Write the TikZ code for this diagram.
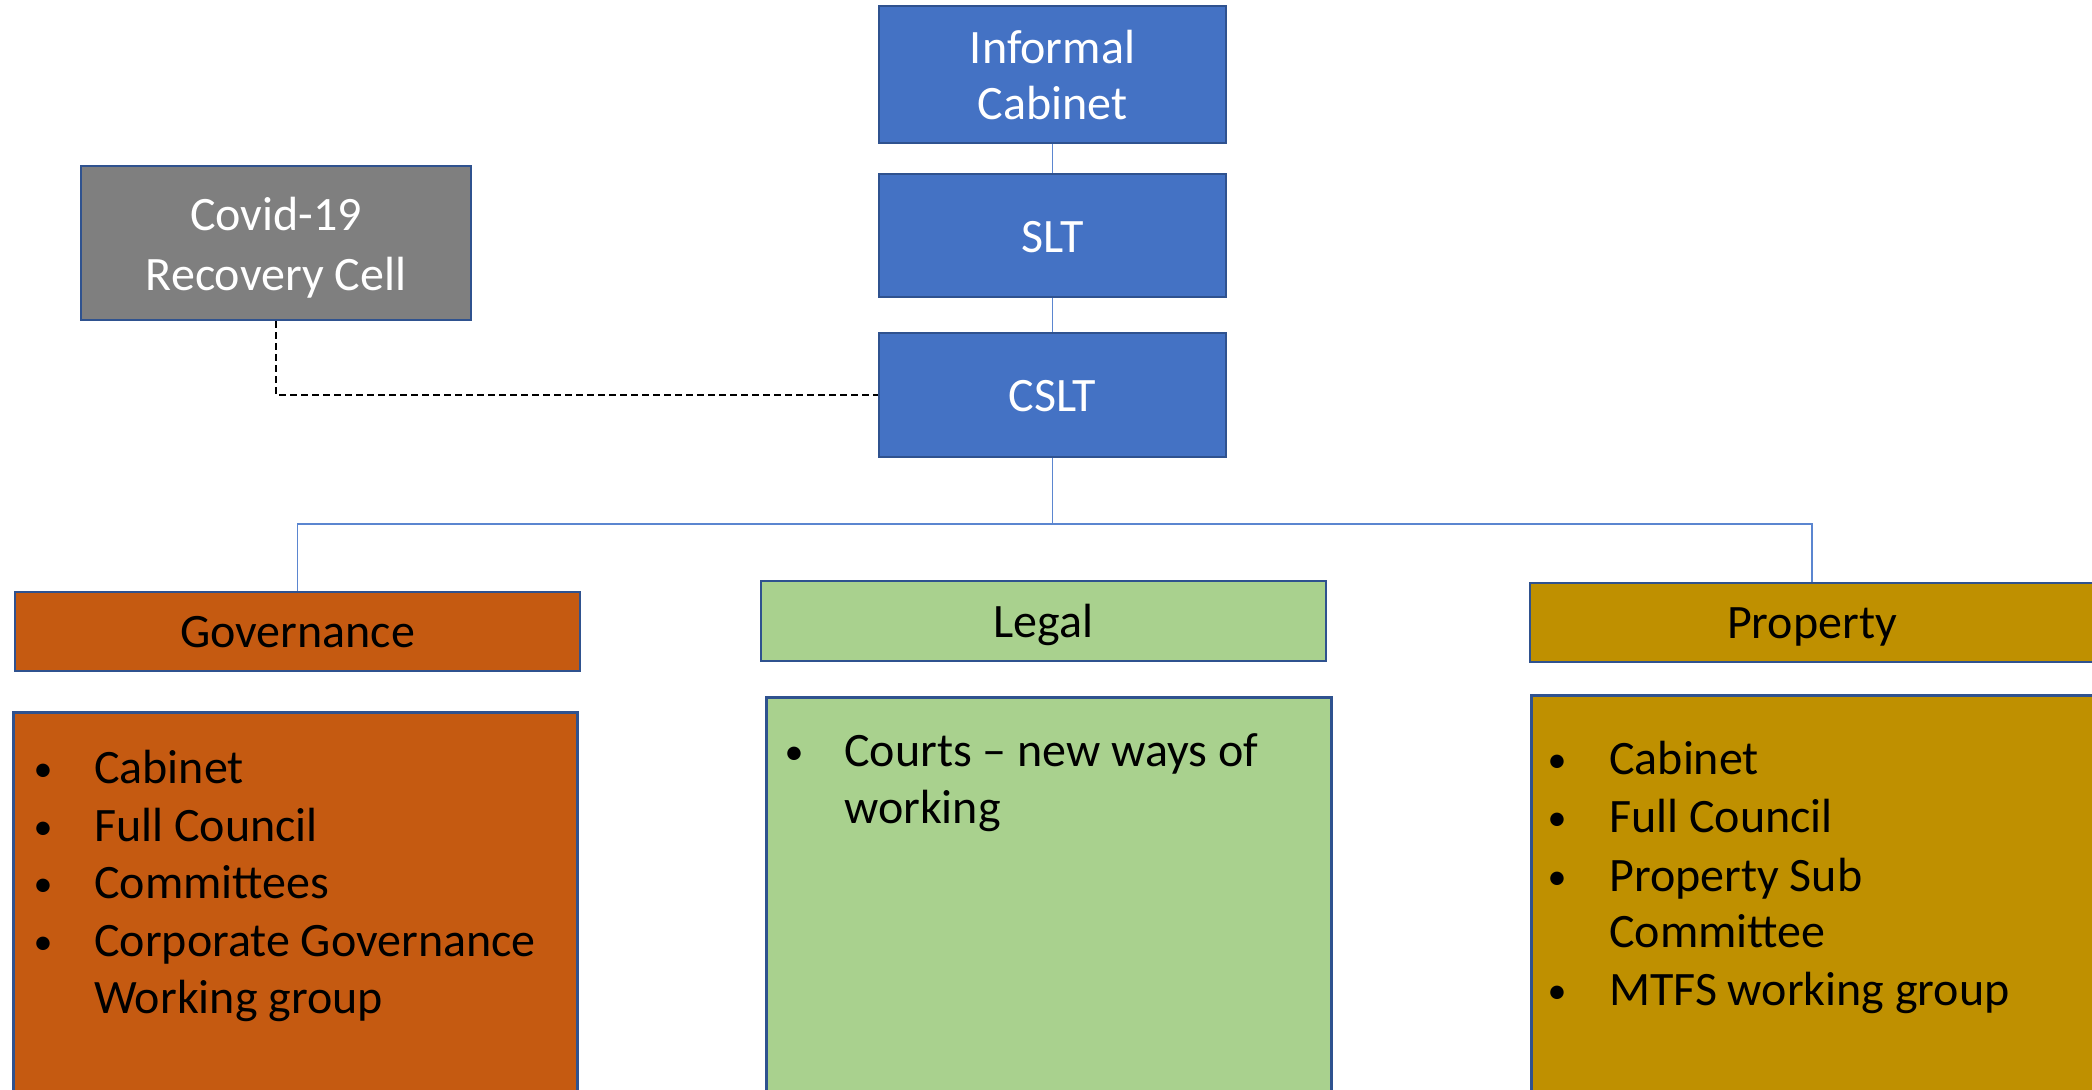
\documentclass[tikz,border=0pt]{standalone}
\usepackage{fontspec}
\setmainfont{Carlito}
\definecolor{cblue}{HTML}{4472C4}
\definecolor{bord}{HTML}{2F528F}
\definecolor{cgrey}{HTML}{7F7F7F}
\definecolor{cgov}{HTML}{C55A11}
\definecolor{clegal}{HTML}{A9D18E}
\definecolor{cprop}{HTML}{BF9000}
\definecolor{clink}{HTML}{5B86D0}
\begin{document}
\begin{tikzpicture}[x=1pt,y=-1pt,
  box/.style={draw=bord, line width=2.5pt, inner sep=0pt, rectangle},
  topbox/.style={box, fill=cblue, text=white, minimum width=347pt, font=\fontsize{48}{56}\selectfont},
  hdr/.style={box, minimum width=565pt, minimum height=79pt, text=black, font=\fontsize{48}{58}\selectfont, text height=32.5pt, text depth=0pt},
  bodybox/.style={box, minimum width=564pt, minimum height=420pt, anchor=north west},
  itemtxt/.style={anchor=base west, inner sep=0pt, font=\fontsize{48}{58}\selectfont, text=black},
  bul/.style={anchor=base, inner sep=0pt, font=\fontsize{38}{58}\selectfont, text=black},
  conn/.style={draw=clink, line width=1.5pt},
  dashline/.style={draw=black, line width=2pt, dash pattern=on 7pt off 4pt}]
\path[use as bounding box] (0,0) rectangle (2092,1089);
\fill[white] (0,0) rectangle (2092,1089);
\clip (0,0) rectangle (2092,1089);

% top column
\node[topbox, minimum height=137pt, align=center, text height=90pt, text depth=0pt] (ic) at (1052.5,74.5) {Informal\\Cabinet};
\node[topbox, minimum height=123pt, text height=33pt, text depth=0pt] (slt) at (1052.5,235.5) {SLT};
\node[topbox, minimum height=124pt, text height=33pt, text depth=0pt] (cslt) at (1052.5,395) {CSLT};

% covid cell
\node[box, fill=cgrey, text=white, minimum width=390pt, minimum height=154pt, align=center, font=\fontsize{48}{60}\selectfont, text height=94pt, text depth=0pt] (covid) at (276,243) {Covid-19\\Recovery Cell};

% headers
\node[hdr, fill=cgov] (gov) at (297.5,631.5) {Governance};
\node[hdr, fill=clegal, minimum height=80pt] (legal) at (1043.5,621) {Legal};
\node[hdr, fill=cprop, minimum width=564pt] (prop) at (1812,622.5) {Property};

% bodies
\node[bodybox, fill=cgov] (govbody) at (12,711) {};
\node[bodybox, fill=clegal, minimum width=565pt] (legalbody) at (765,696) {};
\node[bodybox, fill=cprop] (propbody) at (1530,694) {};

% connectors
\coordinate (hub) at (1052.5,524);
\draw[conn] (ic) -- (slt);
\draw[conn] (slt) -- (cslt);
\draw[conn] (cslt) -- (hub);
\draw[conn] (gov.north) |- (hub) -| (prop.north);
\draw[dashline] (covid.south) |- (cslt.west);

% governance list
\node[bul] (gb1) at (43,781) {\textbullet};
\node[itemtxt] (gt1) at (94,783) {Cabinet};
\node[bul] (gb2) at (43,839) {\textbullet};
\node[itemtxt] (gt2) at (94,841) {Full Council};
\node[bul] (gb3) at (43,896) {\textbullet};
\node[itemtxt] (gt3) at (94,898) {Committees};
\node[bul] (gb4) at (43,954) {\textbullet};
\node[itemtxt] (gt4) at (94,956) {Corporate Governance};
\node[itemtxt] (gt5) at (94,1013) {Working group};

% legal list
\node[bul] (lb1) at (794,764) {\textbullet};
\node[itemtxt] (lt1) at (844,766) {Courts – new ways of};
\node[itemtxt] (lt2) at (844,823) {working};

% property list
\node[bul] (pb1) at (1557,772) {\textbullet};
\node[itemtxt] (pt1) at (1609,774) {Cabinet};
\node[bul] (pb2) at (1557,830) {\textbullet};
\node[itemtxt] (pt2) at (1609,832) {Full Council};
\node[bul] (pb3) at (1557,889) {\textbullet};
\node[itemtxt] (pt3) at (1609,891) {Property Sub};
\node[itemtxt] (pt4) at (1609,947) {Committee};
\node[bul] (pb5) at (1557,1003) {\textbullet};
\node[itemtxt] (pt5) at (1609,1005) {MTFS working group};
\end{tikzpicture}
\end{document}
